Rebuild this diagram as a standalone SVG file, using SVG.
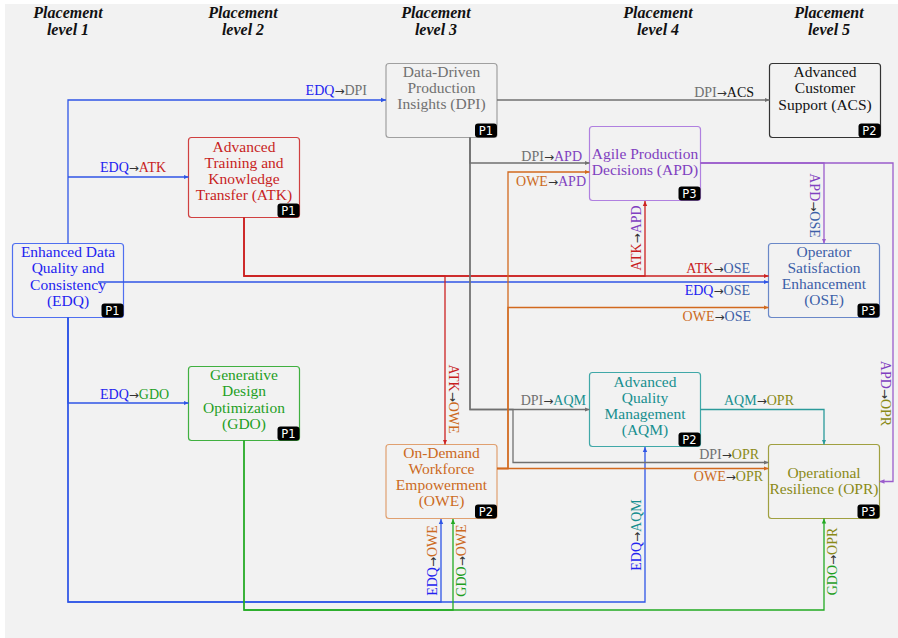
<svg xmlns="http://www.w3.org/2000/svg" width="898" height="638" viewBox="0 0 898 638">
<style>
.hdr{font-family:"Liberation Serif",serif;font-weight:bold;font-style:italic;font-size:16px;fill:#111;text-anchor:middle}
.box{stroke-width:1.2;fill:none}
.ntx{font-family:"Liberation Serif",serif;font-size:15.5px;text-anchor:middle}
.badge{fill:#000}
.bt{font-family:"DejaVu Sans",sans-serif;font-size:11.5px;fill:#fff;text-anchor:middle}
.lbl{font-family:"Liberation Serif",serif;font-size:14px}
.ar{fill:#333;font-family:"DejaVu Sans",sans-serif;font-size:12px}
.e{fill:none;stroke-width:1.3}
.cEDQ{fill:#2323f0}.cATK{fill:#c81e1e}.cDPI{fill:#707070}.cACS{fill:#111}.cAPD{fill:#8040c0}.cOSE{fill:#3d5fa8}.cGDO{fill:#1f9f1f}.cOWE{fill:#cc6a22}.cAQM{fill:#178f8f}.cOPR{fill:#8a8a17}
</style>
<defs>
<marker id="mB" markerUnits="userSpaceOnUse" markerWidth="6" markerHeight="6" refX="5" refY="3" orient="auto"><path d="M0,0.8 L5,3 L0,5.2z" fill="#2f55e6"/></marker>
<marker id="mR" markerUnits="userSpaceOnUse" markerWidth="6" markerHeight="6" refX="5" refY="3" orient="auto"><path d="M0,0.8 L5,3 L0,5.2z" fill="#cc2222"/></marker>
<marker id="mG" markerUnits="userSpaceOnUse" markerWidth="6" markerHeight="6" refX="5" refY="3" orient="auto"><path d="M0,0.8 L5,3 L0,5.2z" fill="#707070"/></marker>
<marker id="mO" markerUnits="userSpaceOnUse" markerWidth="6" markerHeight="6" refX="5" refY="3" orient="auto"><path d="M0,0.8 L5,3 L0,5.2z" fill="#d2691e"/></marker>
<marker id="mP" markerUnits="userSpaceOnUse" markerWidth="6" markerHeight="6" refX="5" refY="3" orient="auto"><path d="M0,0.8 L5,3 L0,5.2z" fill="#9a5ccc"/></marker>
<marker id="mT" markerUnits="userSpaceOnUse" markerWidth="6" markerHeight="6" refX="5" refY="3" orient="auto"><path d="M0,0.8 L5,3 L0,5.2z" fill="#2a9a9a"/></marker>
<marker id="mN" markerUnits="userSpaceOnUse" markerWidth="6" markerHeight="6" refX="5" refY="3" orient="auto"><path d="M0,0.8 L5,3 L0,5.2z" fill="#22aa22"/></marker>
</defs>
<rect x="5" y="4" width="893" height="634" fill="#f2f2f2"/>
<g id="headers">
<text class="hdr" x="68" y="18">Placement</text><text class="hdr" x="68" y="35">level 1</text>
<text class="hdr" x="243" y="18">Placement</text><text class="hdr" x="243" y="35">level 2</text>
<text class="hdr" x="436" y="18">Placement</text><text class="hdr" x="436" y="35">level 3</text>
<text class="hdr" x="658" y="18">Placement</text><text class="hdr" x="658" y="35">level 4</text>
<text class="hdr" x="829" y="18">Placement</text><text class="hdr" x="829" y="35">level 5</text>
</g>
<g id="node-EDQ">
<rect class="box" x="12.5" y="243.5" width="111" height="74" rx="3" stroke="#4f6ff0"/>
<text class="ntx cEDQ"><tspan x="68" y="257">Enhanced Data</tspan><tspan x="68" y="273.3">Quality and</tspan><tspan x="68" y="289.6">Consistency</tspan><tspan x="68" y="305.9">(EDQ)</tspan></text>
<rect class="badge" x="101.5" y="303.5" width="22" height="14" rx="3"/><text class="bt" x="112.5" y="315">P1</text>
</g>
<g id="node-ATK">
<rect class="box" x="188.5" y="137.5" width="111" height="80" rx="3" stroke="#d04040"/>
<text class="ntx cATK"><tspan x="244" y="151.5">Advanced</tspan><tspan x="244" y="167.8">Training and</tspan><tspan x="244" y="184.1">Knowledge</tspan><tspan x="244" y="200.4">Transfer (ATK)</tspan></text>
<rect class="badge" x="277.5" y="203.5" width="22" height="14" rx="3"/><text class="bt" x="288.5" y="215">P1</text>
</g>
<g id="node-DPI">
<rect class="box" x="386" y="63.5" width="111" height="74" rx="3" stroke="#a0a0a0"/>
<text class="ntx cDPI"><tspan x="441.5" y="76.5">Data-Driven</tspan><tspan x="441.5" y="92.8">Production</tspan><tspan x="441.5" y="109.1">Insights (DPI)</tspan></text>
<rect class="badge" x="475" y="123.5" width="22" height="14" rx="3"/><text class="bt" x="486" y="135">P1</text>
</g>
<g id="node-ACS">
<rect class="box" x="769.5" y="63.5" width="111" height="74" rx="3" stroke="#333"/>
<text class="ntx cACS"><tspan x="825" y="77">Advanced</tspan><tspan x="825" y="93.3">Customer</tspan><tspan x="825" y="109.6">Support (ACS)</tspan></text>
<rect class="badge" x="858.5" y="123.5" width="22" height="14" rx="3"/><text class="bt" x="869.5" y="135">P2</text>
</g>
<g id="node-APD">
<rect class="box" x="589.5" y="126.5" width="111" height="74" rx="3" stroke="#b080e0"/>
<text class="ntx cAPD"><tspan x="645" y="159">Agile Production</tspan><tspan x="645" y="175.3">Decisions (APD)</tspan></text>
<rect class="badge" x="678.5" y="186.5" width="22" height="14" rx="3"/><text class="bt" x="689.5" y="198">P3</text>
</g>
<g id="node-OSE">
<rect class="box" x="768.5" y="243.5" width="111" height="74" rx="3" stroke="#6a88c8"/>
<text class="ntx cOSE"><tspan x="824" y="256.5">Operator</tspan><tspan x="824" y="272.8">Satisfaction</tspan><tspan x="824" y="289.1">Enhancement</tspan><tspan x="824" y="305.4">(OSE)</tspan></text>
<rect class="badge" x="857.5" y="303.5" width="22" height="14" rx="3"/><text class="bt" x="868.5" y="315">P3</text>
</g>
<g id="node-GDO">
<rect class="box" x="188.5" y="366.5" width="111" height="74" rx="3" stroke="#40b040"/>
<text class="ntx cGDO"><tspan x="244" y="380">Generative</tspan><tspan x="244" y="396.3">Design</tspan><tspan x="244" y="412.6">Optimization</tspan><tspan x="244" y="428.9">(GDO)</tspan></text>
<rect class="badge" x="277.5" y="426.5" width="22" height="14" rx="3"/><text class="bt" x="288.5" y="438">P1</text>
</g>
<g id="node-OWE">
<rect class="box" x="386" y="444.5" width="111" height="74" rx="3" stroke="#e0a070"/>
<text class="ntx cOWE"><tspan x="441.5" y="457.5">On-Demand</tspan><tspan x="441.5" y="473.8">Workforce</tspan><tspan x="441.5" y="490.1">Empowerment</tspan><tspan x="441.5" y="506.4">(OWE)</tspan></text>
<rect class="badge" x="475" y="504.5" width="22" height="14" rx="3"/><text class="bt" x="486" y="516">P2</text>
</g>
<g id="node-AQM">
<rect class="box" x="589.5" y="372.5" width="111" height="74" rx="3" stroke="#40a8a8"/>
<text class="ntx cAQM"><tspan x="645" y="386.5">Advanced</tspan><tspan x="645" y="402.8">Quality</tspan><tspan x="645" y="419.1">Management</tspan><tspan x="645" y="435.4">(AQM)</tspan></text>
<rect class="badge" x="678.5" y="432.5" width="22" height="14" rx="3"/><text class="bt" x="689.5" y="444">P2</text>
</g>
<g id="node-OPR">
<rect class="box" x="768.5" y="444.5" width="111" height="74" rx="3" stroke="#a0a040"/>
<text class="ntx cOPR"><tspan x="824" y="477.5">Operational</tspan><tspan x="824" y="493.8">Resilience (OPR)</tspan></text>
<rect class="badge" x="857.5" y="504.5" width="22" height="14" rx="3"/><text class="bt" x="868.5" y="516">P3</text>
</g>
<g id="connectors">
<g stroke="#2f55e6" class="e">
<path class="e" d="M68,243.5 V100 H386" marker-end="url(#mB)"/>
<path class="e" d="M68,177 H188.5" marker-end="url(#mB)"/>
<path class="e" d="M68,317.5 V403 H188.5" marker-end="url(#mB)"/>
<path class="e" d="M98,282 H768.5" marker-end="url(#mB)"/>
<path class="e" d="M68,317.5 V602 H645 V447" marker-end="url(#mB)"/>
<path class="e" d="M68,317.5 V602 H441 V519" marker-end="url(#mB)"/>
</g>
<g stroke="#cc2222" class="e">
<path class="e" d="M244,217.5 V276 H768.5" marker-end="url(#mR)"/>
<path class="e" d="M244,217.5 V276 H645 V201" marker-end="url(#mR)"/>
<path class="e" d="M244,217.5 V276 H445 V444.5" marker-end="url(#mR)"/>
</g>
<g stroke="#707070" class="e">
<path class="e" d="M497,100 H769.5" marker-end="url(#mG)"/>
<path class="e" d="M470,137.5 V163 H589.5" marker-end="url(#mG)"/>
<path class="e" d="M470,137.5 V409.5 H589.5" marker-end="url(#mG)"/>
<path class="e" d="M470,137.5 V409.5 H513 V462.5 H768.5" marker-end="url(#mG)"/>
</g>
<g stroke="#d2691e" class="e">
<path class="e" d="M497,468.5 H768.5" marker-end="url(#mO)"/>
<path class="e" d="M497,468.5 H508 V172 H589.5" marker-end="url(#mO)"/>
<path class="e" d="M497,468.5 H508 V307.5 H768.5" marker-end="url(#mO)"/>
</g>
<g stroke="#9a5ccc" class="e">
<path class="e" d="M700.5,163 H824 V243.5" marker-end="url(#mP)"/>
<path class="e" d="M700.5,163 H893 V481.5 H879.5" marker-end="url(#mP)"/>
</g>
<g stroke="#2a9a9a" class="e">
<path class="e" d="M700.5,409.5 H824 V444.5" marker-end="url(#mT)"/>
</g>
<g stroke="#22aa22" class="e">
<path class="e" d="M244,440.5 V610 H453 V519" marker-end="url(#mN)"/>
<path class="e" d="M244,440.5 V610 H824 V518.5" marker-end="url(#mN)"/>
</g>
<g id="labels" class="lbl">
<text x="367" y="95" text-anchor="end"><tspan class="cEDQ">EDQ</tspan><tspan class="ar">→</tspan><tspan class="cDPI">DPI</tspan></text>
<text x="100" y="172"><tspan class="cEDQ">EDQ</tspan><tspan class="ar">→</tspan><tspan class="cATK">ATK</tspan></text>
<text x="100" y="399"><tspan class="cEDQ">EDQ</tspan><tspan class="ar">→</tspan><tspan class="cGDO">GDO</tspan></text>
<text x="754" y="97" text-anchor="end"><tspan class="cDPI">DPI</tspan><tspan class="ar">→</tspan><tspan class="cACS">ACS</tspan></text>
<text x="582" y="161" text-anchor="end"><tspan class="cDPI">DPI</tspan><tspan class="ar">→</tspan><tspan class="cAPD">APD</tspan></text>
<text x="586" y="186" text-anchor="end"><tspan class="cOWE">OWE</tspan><tspan class="ar">→</tspan><tspan class="cAPD">APD</tspan></text>
<text x="750" y="273" text-anchor="end"><tspan class="cATK">ATK</tspan><tspan class="ar">→</tspan><tspan class="cOSE">OSE</tspan></text>
<text x="750" y="295" text-anchor="end"><tspan class="cEDQ">EDQ</tspan><tspan class="ar">→</tspan><tspan class="cOSE">OSE</tspan></text>
<text x="751" y="321" text-anchor="end"><tspan class="cOWE">OWE</tspan><tspan class="ar">→</tspan><tspan class="cOSE">OSE</tspan></text>
<text x="586" y="405" text-anchor="end"><tspan class="cDPI">DPI</tspan><tspan class="ar">→</tspan><tspan class="cAQM">AQM</tspan></text>
<text x="724" y="405"><tspan class="cAQM">AQM</tspan><tspan class="ar">→</tspan><tspan class="cOPR">OPR</tspan></text>
<text x="759" y="459" text-anchor="end"><tspan class="cDPI">DPI</tspan><tspan class="ar">→</tspan><tspan class="cOPR">OPR</tspan></text>
<text x="763" y="481" text-anchor="end"><tspan class="cOWE">OWE</tspan><tspan class="ar">→</tspan><tspan class="cOPR">OPR</tspan></text>
<text transform="translate(641,238) rotate(-90)" text-anchor="middle"><tspan class="cATK">ATK</tspan><tspan class="ar">→</tspan><tspan class="cAPD">APD</tspan></text>
<text transform="translate(449,399) rotate(90)" text-anchor="middle"><tspan class="cATK">ATK</tspan><tspan class="ar">→</tspan><tspan class="cOWE">OWE</tspan></text>
<text transform="translate(810,205.5) rotate(90)" text-anchor="middle"><tspan class="cAPD">APD</tspan><tspan class="ar">→</tspan><tspan class="cOSE">OSE</tspan></text>
<text transform="translate(881,393.5) rotate(90)" text-anchor="middle"><tspan class="cAPD">APD</tspan><tspan class="ar">→</tspan><tspan class="cOPR">OPR</tspan></text>
<text transform="translate(641,535) rotate(-90)" text-anchor="middle"><tspan class="cEDQ">EDQ</tspan><tspan class="ar">→</tspan><tspan class="cAQM">AQM</tspan></text>
<text transform="translate(837,561.5) rotate(-90)" text-anchor="middle"><tspan class="cGDO">GDO</tspan><tspan class="ar">→</tspan><tspan class="cOPR">OPR</tspan></text>
<text transform="translate(437,560.5) rotate(-90)" text-anchor="middle"><tspan class="cEDQ">EDQ</tspan><tspan class="ar">→</tspan><tspan class="cOWE">OWE</tspan></text>
<text transform="translate(466,560.5) rotate(-90)" text-anchor="middle"><tspan class="cGDO">GDO</tspan><tspan class="ar">→</tspan><tspan class="cOWE">OWE</tspan></text>
</g>
</g>
</svg>
